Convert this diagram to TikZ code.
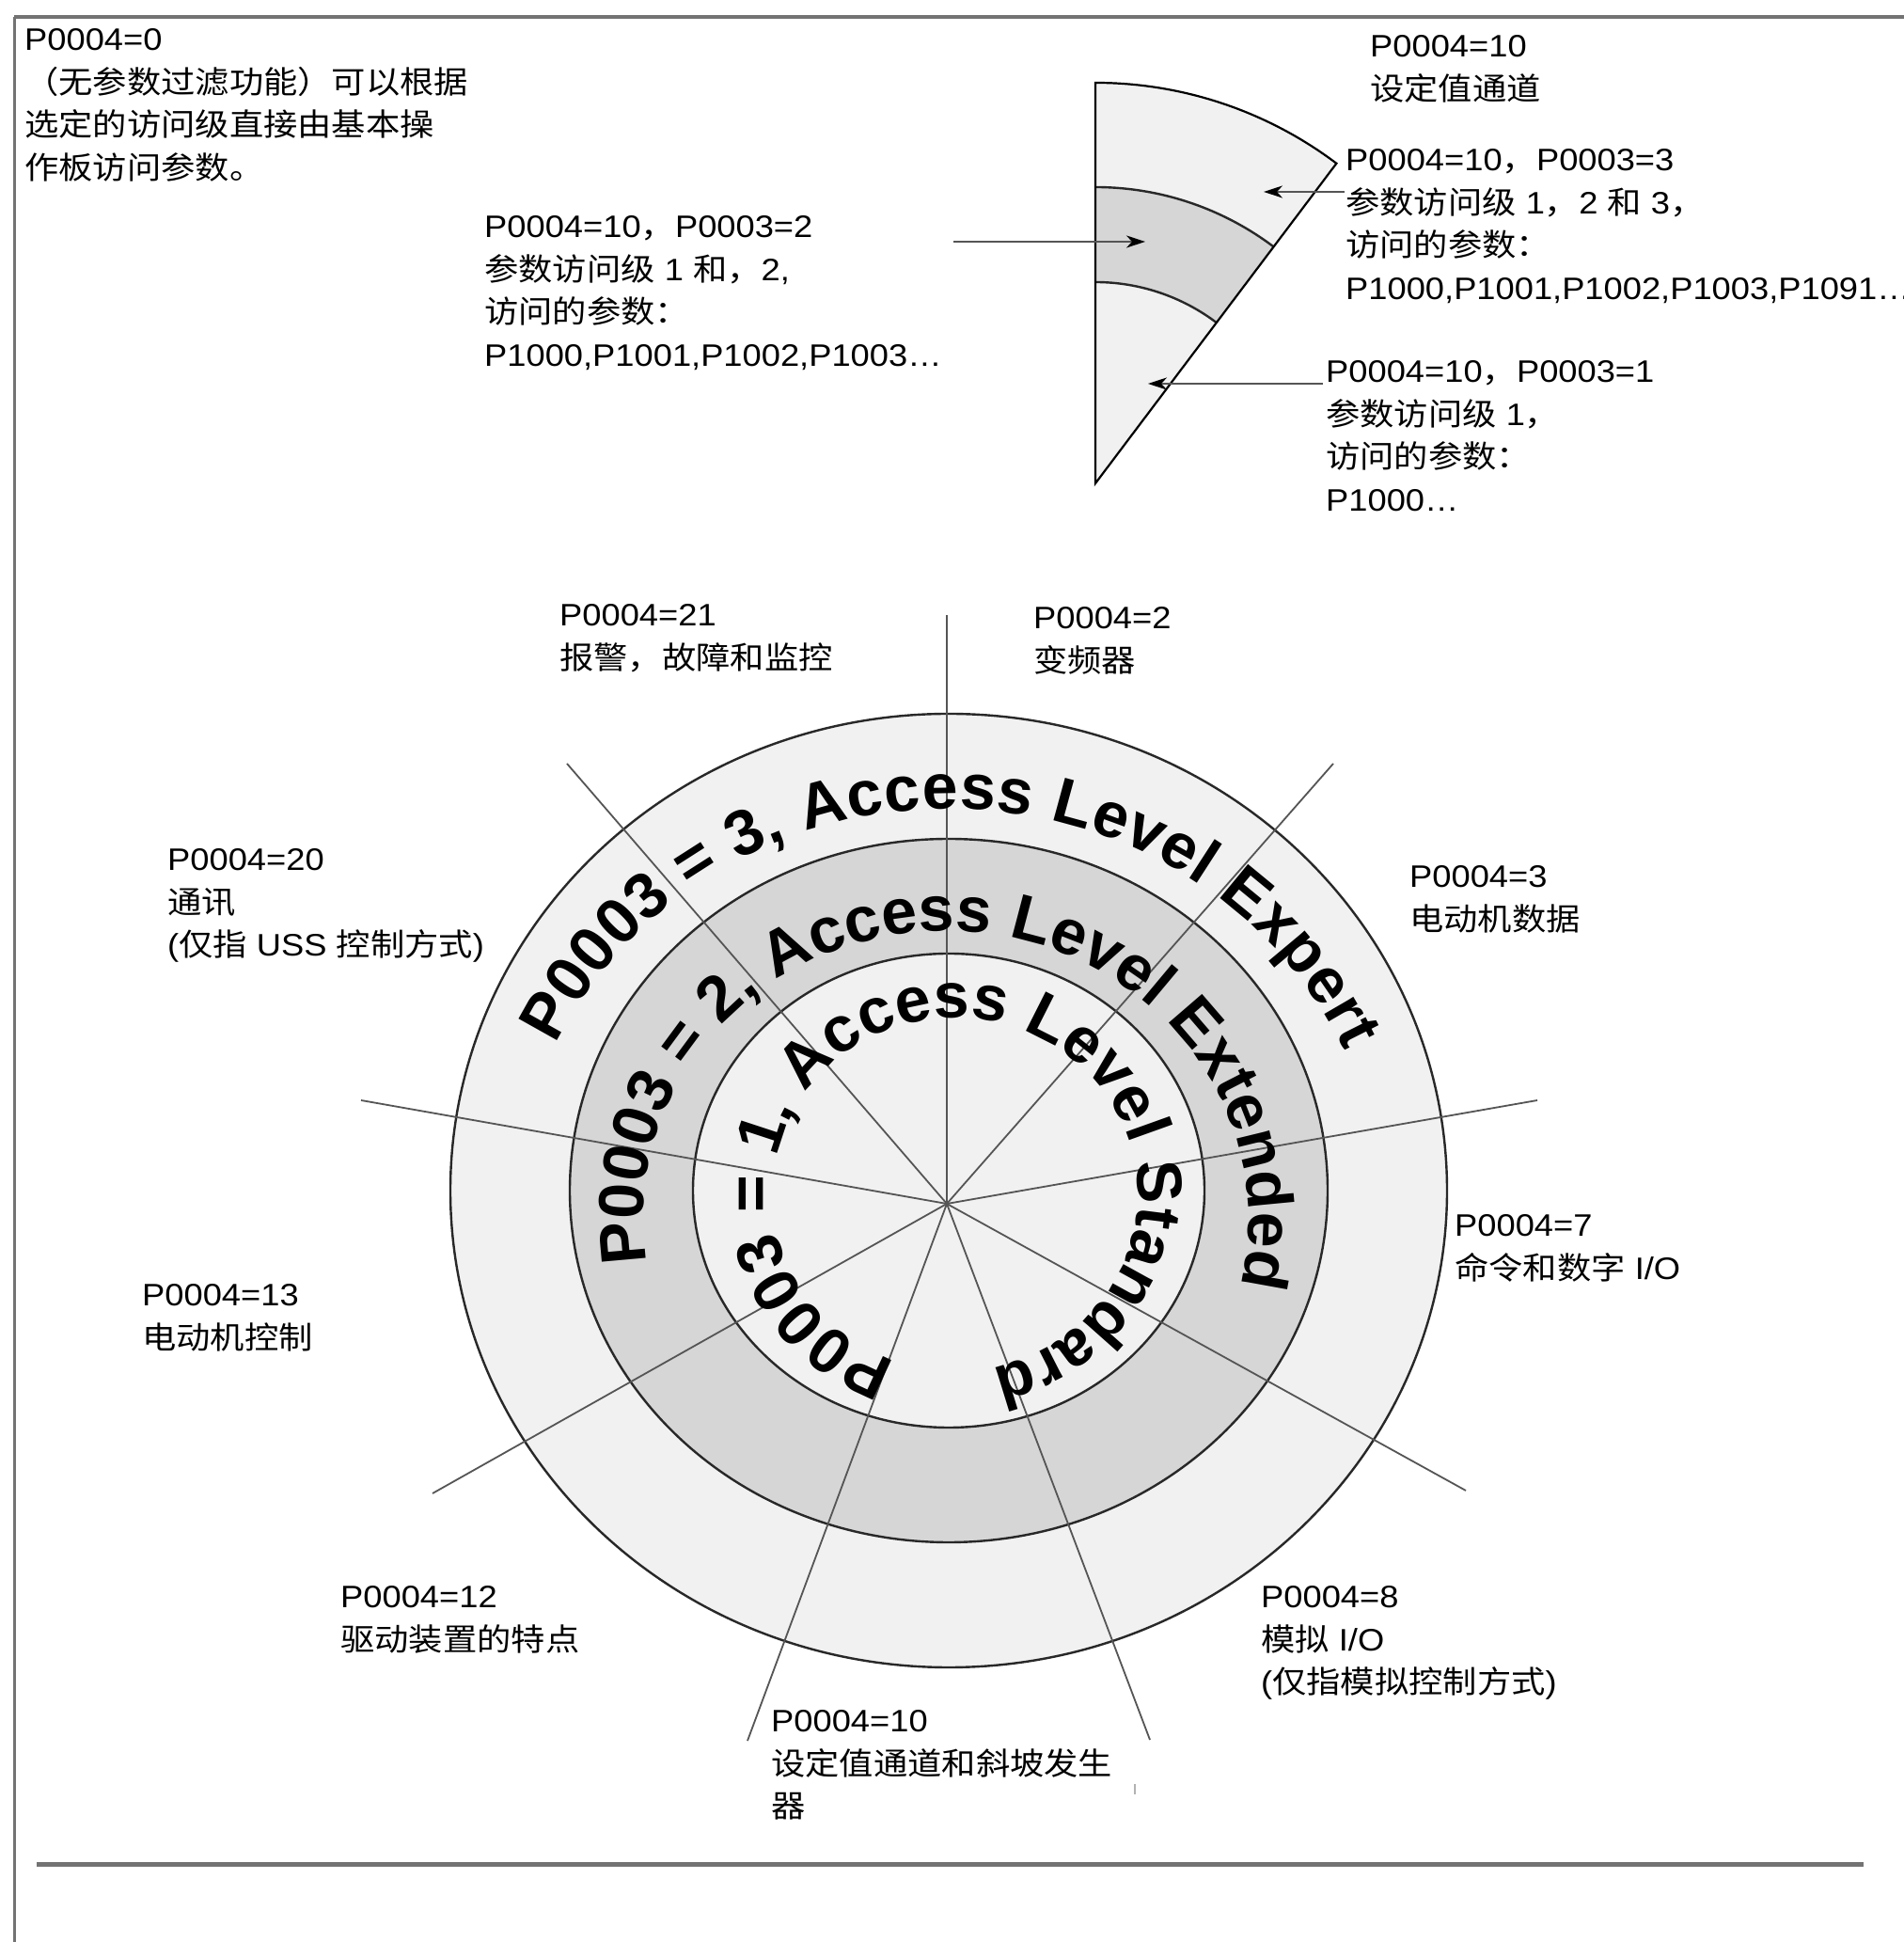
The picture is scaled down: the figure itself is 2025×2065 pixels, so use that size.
\documentclass[tikz,border=0pt]{standalone}
\usepackage{fontspec}
\setmainfont{Liberation Sans}[FakeStretch=1.1]
\newfontfamily\cjkfont{Noto Sans CJK SC}[FakeStretch=1.1]
\newfontfamily\ringfont{Liberation Sans}
\usetikzlibrary{arrows.meta,decorations.text}
\newcommand\zhtxt[1]{{\cjkfont #1}}
\newcommand\ringtxt{\ringfont\bfseries\fontsize{68}{70}\selectfont}
\definecolor{lightfill}{RGB}{241,241,241}
\definecolor{darkfill}{RGB}{214,214,214}
\definecolor{framegray}{RGB}{115,115,115}
\definecolor{spokegray}{RGB}{85,85,85}
\definecolor{ringline}{RGB}{40,40,40}
\tikzset{
  lab/.style={anchor=base west, inner sep=0pt, align=left, font=\fontsize{33}{45.5}\selectfont},
  spoke/.style={draw=spokegray, line width=1.8pt},
  ringedge/.style={draw=ringline, line width=2.4pt},
  wedgeedge/.style={draw=black, line width=2.2pt},
  callout/.style={draw=spokegray, line width=2pt, -{Stealth[length=20pt,width=13pt,inset=6pt,color=black]}},
  ringtext/.style={decorate, decoration={text along path, text align={fit to path}}},
}
\begin{document}
\begin{tikzpicture}[x=1pt,y=1pt]
\useasboundingbox (0,0) rectangle (2025,2065);
\fill[white] (0,0) rectangle (2025,2065);

% frame
\coordinate (fTL) at (15,2047);
\coordinate (fTR) at (2025,2047);
\coordinate (fBL) at (15,0);
\coordinate (bL) at (39,82);
\coordinate (bR) at (1982,82);
\draw[draw=framegray, line width=4.2pt] (fTR) -- (fTL);
\draw[draw=framegray, line width=3pt] (fTL) -- (fBL);
\draw[draw=framegray, line width=5pt] (bL) -- (bR);

% ---------- wedge (top right)
\coordinate (W) at (1165,1551);
\fill[lightfill] (W) -- ([shift={(90:426pt)}]W) arc[start angle=90, end angle=53, radius=426pt] -- cycle;
\fill[darkfill] (W) -- ([shift={(90:315pt)}]W) arc[start angle=90, end angle=53, radius=315pt] -- cycle;
\fill[lightfill] (W) -- ([shift={(90:214pt)}]W) arc[start angle=90, end angle=53, radius=214pt] -- cycle;
\draw[ringedge] ([shift={(90:315pt)}]W) arc[start angle=90, end angle=53, radius=315pt];
\draw[ringedge] ([shift={(90:214pt)}]W) arc[start angle=90, end angle=53, radius=214pt];
\draw[wedgeedge, line join=miter] (W) -- ([shift={(90:426pt)}]W) arc[start angle=90, end angle=53, radius=426pt] -- cycle;

% ---------- main rings
\coordinate (R) at (1009,799);
\filldraw[fill=lightfill, ringedge] (R) ellipse[x radius=530pt, y radius=507pt];
\filldraw[fill=darkfill, ringedge] (R) ellipse[x radius=403pt, y radius=374pt];
\filldraw[fill=lightfill, ringedge] (R) ellipse[x radius=272pt, y radius=252pt];

% spokes
\coordinate (hub) at (1007,785);
\coordinate (s1) at (1007,1411);
\coordinate (s2) at (1418,1253);
\coordinate (s3) at (1635,895);
\coordinate (s4) at (1559,480);
\coordinate (s5) at (1223,215);
\coordinate (s6) at (795,214);
\coordinate (s7) at (460,477);
\coordinate (s8) at (384,895);
\coordinate (s9) at (603,1253);
\foreach \s in {s1,s2,s3,s4,s5,s6,s7,s8,s9} \draw[spoke] (hub) -- (\s);
\coordinate (tk1) at (1207,157);
\coordinate (tk2) at (1207,168);
\draw[draw=gray!60, line width=1.5pt] (tk1) -- (tk2);

% ring texts
\coordinate (TO) at (1009,770);
\coordinate (TM) at (1006,770);
\coordinate (TI) at (1016,795);
\path[ringtext, decoration={text={|\ringtxt|P0003 = 3, Access Level Expert}}]
  ([shift={(155:461pt and 435pt)}]TO) arc[start angle=155, end angle=24, x radius=461pt, y radius=435pt];
\path[ringtext, decoration={text={|\ringtxt|P0003 = 2, Access Level Extended}}]
  ([shift={(189:322pt and 305pt)}]TM) arc[start angle=189, end angle=-12, x radius=322pt, y radius=305pt];
\path[ringtext, decoration={text={|\ringtxt|P0003 = 1, Access Level Standard}}]
  ([shift={(251:194pt and 188pt)}]TI) arc[start angle=251, end angle=-78.5, x radius=194pt, y radius=188pt];

% ---------- labels (anchor = baseline of the last line)
\node[lab] (t0) at (26,1874.5) {P0004=0\\\zhtxt{（无参数过滤功能）可以根据}\\\zhtxt{选定的访问级直接由基本操}\\\zhtxt{作板访问参数。}};
\node[lab] (t10) at (1457,1958.5) {P0004=10\\\zhtxt{设定值通道}};
\node[lab] (t3) at (1431,1746.5) {P0004=10\zhtxt{，}P0003=3\\\zhtxt{参数访问级} 1\zhtxt{，}2 \zhtxt{和} 3\zhtxt{，}\\\zhtxt{访问的参数：}\\P1000,P1001,P1002,P1003,P1091…};
\node[lab] (t2) at (515,1675.5) {P0004=10\zhtxt{，}P0003=2\\\zhtxt{参数访问级} 1 \zhtxt{和，}2,\\\zhtxt{访问的参数：}\\P1000,P1001,P1002,P1003…};
\node[lab] (t1) at (1410,1521.5) {P0004=10\zhtxt{，}P0003=1\\\zhtxt{参数访问级} 1\zhtxt{，}\\\zhtxt{访问的参数：}\\P1000…};

\node[lab] (l21) at (595,1353.5) {P0004=21\\\zhtxt{报警，故障和监控}};
\node[lab] (l2) at (1099,1350.5) {P0004=2\\\zhtxt{变频器}};
\node[lab] (l20) at (178,1048) {P0004=20\\\zhtxt{通讯}\\(\zhtxt{仅指} USS \zhtxt{控制方式})};
\node[lab] (l3) at (1499,1075.5) {P0004=3\\\zhtxt{电动机数据}};
\node[lab] (l7) at (1547,704.5) {P0004=7\\\zhtxt{命令和数字} I/O};
\node[lab] (l13) at (151,630.5) {P0004=13\\\zhtxt{电动机控制}};
\node[lab] (l12) at (362,309.5) {P0004=12\\\zhtxt{驱动装置的特点}};
\node[lab] (l8) at (1341,264) {P0004=8\\\zhtxt{模拟} I/O\\(\zhtxt{仅指模拟控制方式})};
\node[lab] (l10) at (820,132) {P0004=10\\\zhtxt{设定值通道和斜坡发生}\\\zhtxt{器}};

% ---------- callout arrows
\coordinate (a2s) at (1014,1808);
\coordinate (a2e) at (1218,1808);
\coordinate (a3s) at (1430,1861);
\coordinate (a3e) at (1344,1861);
\coordinate (a1s) at (1407,1657);
\coordinate (a1e) at (1221,1657);
\draw[callout] (a2s) -- (a2e);
\draw[callout] (a3s) -- (a3e);
\draw[callout] (a1s) -- (a1e);
\end{tikzpicture}
\end{document}
